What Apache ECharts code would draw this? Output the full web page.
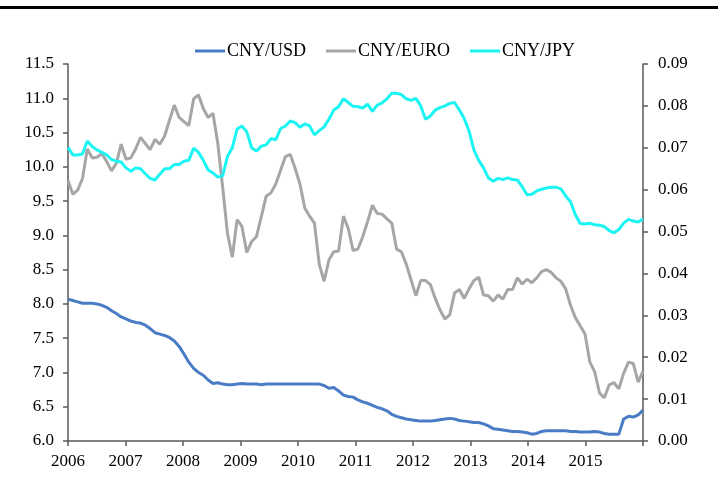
<!DOCTYPE html>
<html>
<head>
<meta charset="utf-8">
<title>CNY exchange rates</title>
<script src="https://cdn.jsdelivr.net/npm/echarts@6/dist/echarts.min.js"></script>
<style>
  html, body { margin: 0; padding: 0; background: #fff; }
  #chart { width: 724px; height: 490px; }
</style>
</head>
<body>
<div id="chart"></div>
<script>
// monthly points, Jan 2006 .. Dec 2015
const startYear = 2006
const endYear = 2016
const yearTicks = [2006, 2007, 2008, 2009, 2010, 2011, 2012, 2013, 2014, 2015]

// CNY/USD (left axis)
const usd = [
  8.07, 8.05, 8.03, 8.01, 8.01, 8.01, 8.00, 7.98, 7.95, 7.90, 7.86, 7.81,
  7.78, 7.75, 7.73, 7.72, 7.69, 7.64, 7.58, 7.56, 7.54, 7.51, 7.46, 7.38,
  7.27, 7.15, 7.06, 7.00, 6.96, 6.89, 6.84, 6.85, 6.83, 6.82, 6.82, 6.83,
  6.84, 6.83, 6.83, 6.83, 6.82, 6.83, 6.83, 6.83, 6.83, 6.83, 6.83, 6.83,
  6.83, 6.83, 6.83, 6.83, 6.83, 6.81, 6.77, 6.78, 6.73, 6.67, 6.65, 6.64,
  6.60, 6.57, 6.55, 6.52, 6.49, 6.47, 6.44, 6.39, 6.36, 6.34, 6.32, 6.31,
  6.30, 6.29, 6.29, 6.29, 6.30, 6.31, 6.32, 6.33, 6.32, 6.30, 6.29, 6.28,
  6.27, 6.27, 6.25, 6.22, 6.18, 6.17, 6.16, 6.15, 6.14, 6.14, 6.13, 6.12,
  6.10, 6.11, 6.14, 6.15, 6.15, 6.15, 6.15, 6.15, 6.14, 6.14, 6.13, 6.13,
  6.13, 6.14, 6.13, 6.11, 6.10, 6.10, 6.10, 6.32, 6.36, 6.35, 6.38, 6.45
]

// CNY/EURO (left axis)
const euro = [
  9.80, 9.60, 9.66, 9.83, 10.26, 10.13, 10.14, 10.19, 10.08, 9.94, 10.05, 10.33,
  10.11, 10.13, 10.26, 10.43, 10.34, 10.25, 10.40, 10.33, 10.45, 10.68, 10.90, 10.72,
  10.66, 10.60, 10.99, 11.05, 10.85, 10.72, 10.78, 10.34, 9.71, 9.03, 8.68, 9.23,
  9.13, 8.75, 8.91, 8.98, 9.27, 9.57, 9.62, 9.75, 9.95, 10.15, 10.18, 9.98,
  9.75, 9.40, 9.28, 9.18, 8.58, 8.33, 8.64, 8.76, 8.77, 9.28, 9.10, 8.78,
  8.80, 8.98, 9.20, 9.44, 9.32, 9.31, 9.24, 9.18, 8.80, 8.76, 8.58, 8.35,
  8.12, 8.34, 8.34, 8.28, 8.08, 7.91, 7.78, 7.84, 8.16, 8.21, 8.08, 8.22,
  8.34, 8.39, 8.13, 8.12, 8.04, 8.13, 8.07, 8.21, 8.21, 8.38, 8.29, 8.36,
  8.31, 8.38, 8.47, 8.50, 8.46, 8.38, 8.33, 8.22, 7.98, 7.80, 7.68, 7.56,
  7.15, 7.01, 6.70, 6.63, 6.82, 6.85, 6.76, 6.99, 7.15, 7.13, 6.86, 7.02
]

// CNY/JPY (right axis)
const jpy = [
  0.0701, 0.0683, 0.0683, 0.0685, 0.0716, 0.0703, 0.0695, 0.0689, 0.0683, 0.0672, 0.0668, 0.0666,
  0.0652, 0.0644, 0.0652, 0.0650, 0.0638, 0.0627, 0.0623, 0.0637, 0.0650, 0.0650, 0.0660, 0.0660,
  0.0668, 0.0670, 0.0699, 0.0689, 0.0670, 0.0647, 0.0640, 0.0630, 0.0633, 0.0679, 0.0700, 0.0745,
  0.0752, 0.0738, 0.0700, 0.0692, 0.0704, 0.0707, 0.0722, 0.0719, 0.0746, 0.0752, 0.0764, 0.0760,
  0.0749, 0.0757, 0.0752, 0.0731, 0.0741, 0.0750, 0.0768, 0.0790, 0.0798, 0.0817, 0.0808, 0.0799,
  0.0798, 0.0795, 0.0804, 0.0787, 0.0802, 0.0807, 0.0817, 0.0830, 0.0830, 0.0827, 0.0817, 0.0813,
  0.0818, 0.0800, 0.0768, 0.0776, 0.0790, 0.0796, 0.0800, 0.0806, 0.0808, 0.0790, 0.0770, 0.0740,
  0.0695, 0.0670, 0.0652, 0.0628, 0.0620, 0.0627, 0.0624, 0.0628, 0.0624, 0.0623, 0.0607, 0.0588,
  0.0589, 0.0597, 0.0601, 0.0604, 0.0606, 0.0606, 0.0602, 0.0585, 0.0571, 0.0540, 0.0519, 0.0518,
  0.0520, 0.0516, 0.0515, 0.0512, 0.0502, 0.0497, 0.0505, 0.0520, 0.0529, 0.0525, 0.0523, 0.0530
]

// points are spread evenly over the axis, first month on 2006, last on the right edge
const toPoints = arr => arr.map((v, i) => [startYear + i * (endYear - startYear) / (arr.length - 1), v])

const font = 'Liberation Serif'
const axisColor = '#595959'

const chart = echarts.init(document.getElementById('chart'))
chart.setOption({
  backgroundColor: '#fff',
  animation: false,
  graphic: [
    {
      type: 'rect',
      shape: { x: 0, y: 6, width: 718, height: 3 },
      style: { fill: '#000' }
    }
  ],
  legend: {
    top: 37,
    left: 190,
    itemWidth: 30,
    itemHeight: 3,
    itemGap: 20,
    icon: 'rect',
    textStyle: { fontFamily: font, fontSize: 18, color: '#000', padding: [0, 0, 0, -3] },
    data: ['CNY/USD', 'CNY/EURO', 'CNY/JPY']
  },
  grid: { left: 68, right: 81, top: 64, bottom: 49 },
  xAxis: {
    type: 'value',
    min: startYear,
    max: endYear,
    interval: 1,
    splitLine: { show: false },
    axisLine: { lineStyle: { color: axisColor, width: 1.5 } },
    axisTick: { length: 5, lineStyle: { color: axisColor, width: 1.5 } },
    axisLabel: {
      fontFamily: font, fontSize: 17, color: '#000', margin: 12,
      formatter: v => yearTicks.includes(v) ? String(v) : ''
    }
  },
  yAxis: [
    {
      type: 'value',
      min: 6,
      max: 11.5,
      interval: 0.5,
      splitLine: { show: false },
      axisLine: { show: true, lineStyle: { color: axisColor, width: 1.5 } },
      axisTick: { show: true, length: 5, lineStyle: { color: axisColor, width: 1.5 } },
      axisLabel: { fontFamily: font, fontSize: 17, color: '#000', margin: 14, formatter: v => v.toFixed(1) }
    },
    {
      type: 'value',
      min: 0,
      max: 0.09,
      interval: 0.01,
      position: 'right',
      splitLine: { show: false },
      axisLine: { show: true, lineStyle: { color: axisColor, width: 1.5 } },
      axisTick: { show: true, length: 5, lineStyle: { color: axisColor, width: 1.5 } },
      axisLabel: { fontFamily: font, fontSize: 17, color: '#000', margin: 15, formatter: v => v.toFixed(2) }
    }
  ],
  series: [
    {
      name: 'CNY/USD',
      type: 'line',
      yAxisIndex: 0,
      data: toPoints(usd),
      showSymbol: false,
      color: '#4A7CC6',
      lineStyle: { width: 3 }
    },
    {
      name: 'CNY/EURO',
      type: 'line',
      yAxisIndex: 0,
      data: toPoints(euro),
      showSymbol: false,
      color: '#A6A6A6',
      lineStyle: { width: 3 }
    },
    {
      name: 'CNY/JPY',
      type: 'line',
      yAxisIndex: 1,
      data: toPoints(jpy),
      showSymbol: false,
      color: '#1CF4F4',
      lineStyle: { width: 3 }
    }
  ]
})
</script>
</body>
</html>
